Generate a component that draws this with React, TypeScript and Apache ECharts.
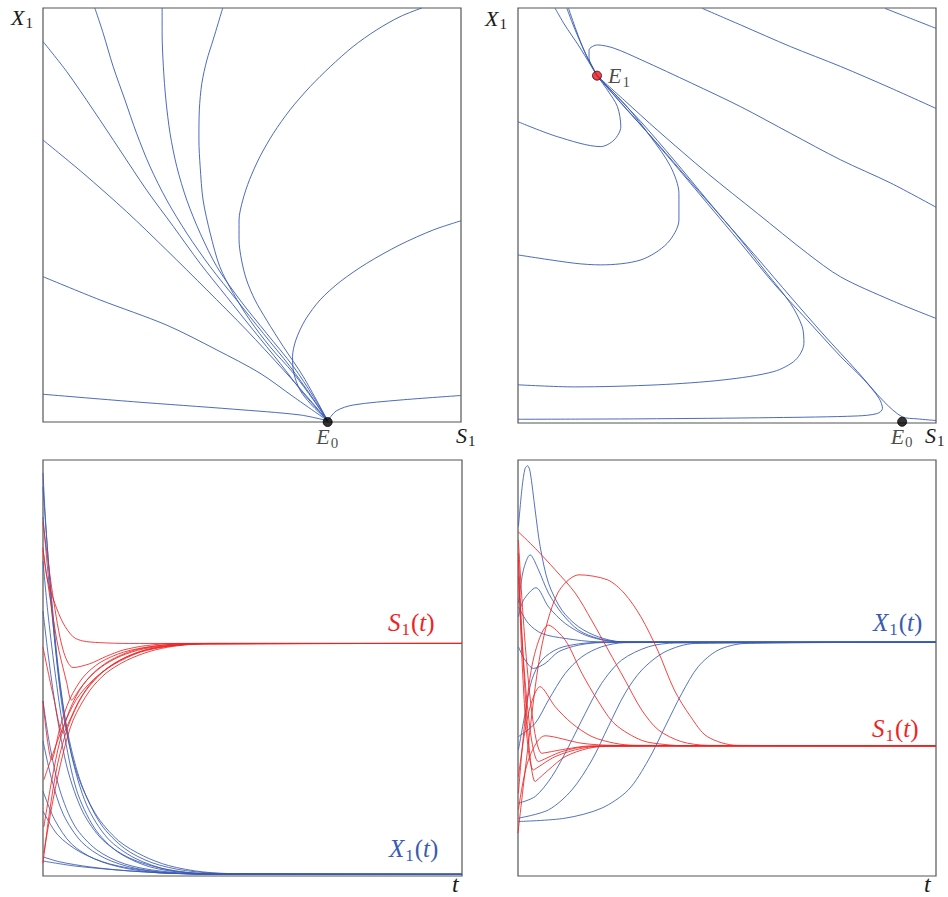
import React, { useEffect, useRef } from "react";
import * as echarts from "echarts";

type Pt = [number, number];

// ---------- Top-left phase portrait (S1 horizontal, X1 vertical), E0 node ----------
const topLeftTrajectories: Pt[][] = [
  [[0, 6.7], [21.6, 4.9], [45.5, 3.1], [61.5, 1.7], [68.1, 0.3]],
  [[0, 35.1], [13.6, 29.5], [29.6, 23.4], [41.6, 17.4], [51.9, 11.8], [59.9, 6.1], [68.1, 0.3]],
  [[0, 68.1], [9.6, 60.1], [20, 50.8], [29.6, 41.5], [39.2, 31.9], [48.7, 22.2], [57.5, 12.6], [63.9, 5.3], [68.1, 0.3]],
  [[0, 91.9], [5.7, 84.6], [12, 75.4], [18.4, 65.7], [24.8, 56], [31.2, 47.2], [37.6, 38.3], [43.9, 30.3], [50.3, 22.2], [56.7, 14.2], [62.3, 6.9], [68.1, 0.3]],
  [[12.4, 100], [14.4, 93.9], [16.8, 85.8], [19.6, 77.8], [22.4, 69.7], [25.6, 61.7], [29.6, 53.6], [34.4, 45.6], [40, 37.5], [46.3, 29.5], [52.7, 21.4], [59.1, 13.4], [64.3, 6.1], [68.1, 0.3]],
  [[28.5, 100], [28.5, 93.9], [28.8, 85.8], [29.4, 77.8], [30.4, 69.7], [32, 61.7], [34.4, 53.6], [37.6, 45.6], [41.6, 37.5], [47.1, 29.5], [53.5, 21.4], [59.9, 13.4], [64.7, 6.1], [68.1, 0.3]],
  [[43, 100], [41.9, 96.3], [40.7, 92.3], [39.2, 87.4], [38, 81.8], [37.4, 75.4], [37.3, 68.1], [37.6, 61.7], [38.3, 53.6], [40, 45.6], [42.3, 37.5], [45.5, 31.1], [49.5, 24.6], [54.3, 18.2], [59.9, 11.8], [64.7, 5.3], [68.1, 0.3]],
  [[90.6, 100], [85.4, 97.9], [79.8, 94.7], [74.2, 90.7], [68.7, 85.8], [63.9, 81], [59.1, 75.4], [55.1, 69.7], [51.9, 64.1], [49.4, 58.5], [47.8, 53.6], [46.9, 48.8], [46.9, 44], [47.5, 39.1], [48.7, 34.3], [50.7, 29.5], [53.5, 24.6], [57.5, 18.2], [62.3, 10.9], [68.1, 0.3]],
  [[100, 48.6], [93.4, 46.4], [85.4, 42.8], [77.4, 38.3], [71.1, 33.9], [66.3, 29.5], [62.7, 24.6], [60.5, 19.8], [59.7, 15.8], [60, 11.8], [61.5, 7.7], [63.9, 4.5], [68.1, 0.3]],
  [[100, 6.4], [85.4, 5.3], [74.2, 4.1], [70.2, 2.7], [68.1, 0.3]],
];
const topLeftE0: Pt = [68.1, 0];

// ---------- Top-right phase portrait, E1 and E0 ----------
const topRightTrajectories: Pt[][] = [
  [[87.8, 99.9], [93.9, 97.5], [100, 95.1]],
  [[44.1, 99.9], [53.3, 95.9], [65.2, 90.7], [77.2, 85.9], [89.2, 80.7], [100, 75.8]],
  [[100, 52], [89.2, 57.8], [77.2, 63.4], [65.2, 69.8], [53.3, 76.2], [41.5, 81.9], [29.5, 87.5], [23, 90.3], [19, 91.1], [17, 89.9], [17, 87.9], [18.2, 85.1], [18.9, 83.7]],
  [[18.9, 83.7], [25.4, 77.8], [33.3, 70.6], [45.3, 60.2], [57.3, 50.5], [69.2, 40.9], [77.2, 35.2], [89.2, 29.6], [100, 25.2]],
  [[18.9, 83.7], [25.4, 76.2], [33.3, 67.4], [41.3, 58.1], [49.3, 48.9], [57.3, 39.7], [65.2, 30.4], [73.2, 21.2], [81.2, 12.4], [87.6, 5.1], [91.9, 1.5], [95.5, 1], [100, 0.6]],
  [[0, 0.9], [29.4, 1], [61.2, 1.3], [81.2, 1.7], [86, 2.3], [87.2, 3.5], [86.4, 5.9], [82.8, 10.4], [77.2, 16], [69.2, 24.8], [61.2, 33.6], [53.3, 43.3], [45.3, 52.9], [37.3, 62.5], [29.4, 71.8], [23, 79], [18.9, 83.7]],
  [[0, 9.2], [13.5, 8.7], [33.4, 9.2], [49.3, 10.4], [61.2, 12.4], [66.4, 15.2], [68.4, 19.2], [68, 23.2], [65.2, 28.8], [59.6, 36], [53.3, 44.1], [45.3, 53.7], [37.3, 63.4], [29.4, 72.6], [23, 79.4], [18.9, 83.7]],
  [[0, 40.5], [13.5, 38.5], [19.8, 38.1], [29.4, 39.3], [35.7, 43.3], [38.5, 48.9], [38.5, 55.3], [36.5, 61.8], [31.7, 69], [26.1, 76.2], [21.4, 81.1], [18.9, 83.7]],
  [[0, 72.6], [9.4, 69], [19.8, 66.6], [23, 68.2], [24.6, 71.4], [23.8, 76.2], [21.4, 80.2], [18.9, 83.7]],
  [[8.9, 99.9], [11.2, 95.9], [14.4, 91.1], [17.6, 85.9], [18.9, 83.7]],
  [[11.7, 99.9], [13.2, 95.9], [15.2, 91.1], [17.2, 86.7], [18.9, 83.7]],
  [[12.1, 99.9], [13.9, 94.7], [16, 89.4], [18.9, 83.7]],
];
const topRightE1: Pt = [18.9, 83.7];
const topRightE0: Pt = [91.9, 0.3];

// ---------- Bottom-left time series (washout) ----------
const bottomLeftX1: Pt[][] = [
  [[0, 96.9], [0.6, 85.6], [1.6, 71.2], [3, 54.3], [5, 38], [8, 25], [12.5, 15], [18, 8.5], [24, 4.8], [30, 2.5], [38, 1], [48, 0.5], [100, 0.4]],
  [[0, 93.5], [0.9, 80.8], [2.1, 66.3], [3.7, 49.5], [6, 34], [9.2, 22], [13.8, 12.5], [19.5, 6.6], [26, 3.2], [34, 1.3], [45, 0.5], [100, 0.4]],
  [[0, 86.3], [0.9, 76], [2.3, 61.5], [4.2, 44.7], [6.8, 29.1], [10.4, 17.1], [15.4, 9.1], [21.9, 4.3], [30.2, 1.4], [41, 0.5], [56.5, 0.4], [100, 0.4]],
  [[0, 75.7], [1.1, 63.9], [2.8, 49.5], [4.9, 35.1], [8, 20.7], [12.3, 11.5], [17.8, 5.8], [25.5, 2.2], [35, 0.7], [49.3, 0.4], [100, 0.4]],
  [[0, 63.7], [1.4, 51.9], [3.3, 38.7], [5.9, 25.5], [9.5, 15.4], [14.2, 8.7], [20.7, 4.3], [29, 1.7], [39.8, 0.5], [100, 0.4]],
  [[0, 42.1], [1.6, 31.5], [4, 20.7], [7.6, 12], [12.8, 6.3], [19.5, 2.9], [27.9, 1.2], [39.8, 0.4], [100, 0.4]],
  [[0, 32.5], [2.1, 23.1], [4.9, 14.7], [9.2, 8.2], [14.7, 4.3], [21.9, 1.9], [32.6, 0.6], [100, 0.4]],
  [[0, 20.4], [2.8, 13.5], [6.8, 7.7], [12.3, 4.1], [19.5, 1.9], [30.2, 0.6], [100, 0.4]],
  [[0, 15.6], [3.5, 9.9], [8.8, 5.8], [15.9, 2.9], [25.5, 1.2], [37.4, 0.4], [100, 0.4]],
  [[0, 4.6], [4, 3.4], [11.1, 2.2], [20.7, 1.2], [32.6, 0.6], [49.3, 0.4], [100, 0.4]],
  [[0, 3.6], [7.6, 2.4], [18.3, 1.4], [30.2, 0.7], [46.9, 0.4], [100, 0.4]],
];
const bottomLeftS1: Pt[][] = [
  [[0, 79], [0.9, 72], [2.8, 65.6], [4.8, 60.8], [7.2, 57.5], [9.5, 56.5], [13.5, 56.1], [20.7, 55.9], [100, 55.9]],
  [[0, 85], [2.4, 67.1], [4.8, 54.3], [7.2, 50.1], [11.1, 51], [15.1, 52.8], [19.1, 54.3], [24.7, 55.4], [32, 55.9], [100, 55.9]],
  [[0.2, 5.5], [2.4, 18.3], [4.8, 29.5], [7.2, 37.5], [11.1, 44.5], [15.1, 48.8], [19.9, 51.8], [25.5, 54], [31, 55.2], [38, 55.8], [100, 55.9]],
  [[0.2, 11.8], [2.1, 23.1], [4.1, 32.7], [6.4, 40], [9.6, 46], [13.6, 50], [18.4, 52.8], [24, 54.6], [31, 55.5], [39, 55.9], [100, 55.9]],
  [[0, 42], [2.1, 27.9], [4.1, 35.9], [6.4, 42.5], [9.6, 47.8], [13.6, 51.3], [19.2, 53.8], [26, 55.2], [34, 55.8], [100, 55.9]],
  [[0, 55], [2.5, 43.1], [4.8, 34.3], [6.4, 37.5], [8.8, 42.5], [12, 47], [16.8, 51], [23, 53.9], [30, 55.3], [38, 55.8], [100, 55.9]],
  [[0, 78.4], [3.3, 56.7], [5.7, 46.3], [6.8, 42.3], [8.8, 45], [12, 48.8], [16, 51.8], [21.5, 54.2], [28.7, 55.5], [36, 55.9], [100, 55.9]],
  [[0.2, 23.1], [2.4, 29.5], [4.8, 35.9], [8, 42.5], [12, 47.2], [16.8, 50.8], [23.2, 53.8], [30, 55.2], [38, 55.8], [100, 55.9]],
  [[0, 3.1], [1.5, 15], [3.5, 27], [6, 36], [9.5, 43.5], [14, 48.8], [19, 52.2], [25, 54.5], [32, 55.5], [40, 55.9], [100, 55.9]],
];

// ---------- Bottom-right time series (coexistence) ----------
const bottomRightX1: Pt[][] = [
  [[0.1, 84], [1, 93.6], [1.7, 98], [2.3, 98.6], [2.9, 97.2], [4.1, 88], [5.3, 79.2], [7.3, 70.4], [10.5, 63.9], [14.5, 59.9], [19.2, 57.5], [24.8, 56.3], [100, 56.2]],
  [[0.1, 65.6], [1.3, 73.6], [2.9, 77.2], [4.9, 73.6], [7.3, 68], [10.5, 63.1], [14.5, 59.1], [19.2, 57.1], [24.8, 56.3], [100, 56.2]],
  [[0.1, 62.3], [1.3, 66.3], [4.3, 69.3], [7.3, 64.7], [11.3, 60.7], [16.1, 57.9], [21.6, 56.5], [28, 56.2], [100, 56.2]],
  [[0.1, 64.7], [2.5, 60.7], [5.7, 58.3], [11.3, 57.1], [19.2, 56.3], [100, 56.2]],
  [[0.1, 55.1], [1.7, 51.9], [3.7, 49.9], [6.5, 51.1], [9.7, 53.9], [14.5, 55.5], [20, 56.1], [100, 56.2]],
  [[0.1, 30.3], [1.7, 39.1], [3.3, 47.1], [5.7, 51.9], [9.7, 54.7], [15.3, 55.9], [21.6, 56.2], [100, 56.2]],
  [[0.1, 33.5], [4.1, 36.7], [7.3, 42.3], [11.3, 48.7], [15.3, 52.7], [20, 55.1], [25.6, 56.1], [100, 56.2]],
  [[0.1, 17.5], [4.1, 19.1], [8.1, 23.9], [12.1, 31.1], [16.1, 39.1], [20, 46.3], [24.8, 51.9], [31.2, 55.1], [37.5, 56], [100, 56.2]],
  [[0.1, 13.9], [7.3, 15.9], [12.9, 20.7], [17.7, 27.9], [21.6, 35.9], [25.6, 43.9], [29.6, 49.5], [35.2, 53.9], [42.3, 55.9], [100, 56.2]],
  [[0.1, 13.1], [11.3, 13.9], [20, 16.3], [26.4, 20.7], [31.2, 27.9], [35.2, 35.9], [39.2, 43.9], [43.1, 50.3], [47.9, 54.3], [54.3, 55.9], [100, 56.2]],
];
const bottomRightS1: Pt[][] = [
  [[0, 82.8], [4.1, 78.8], [8.9, 73.6], [13.7, 68], [17.6, 61.5], [21.6, 54.3], [25.6, 47.1], [29.6, 39.9], [33.6, 35.1], [39.1, 32.3], [45.5, 31.4], [100, 31.3]],
  [[0, 10.3], [2.3, 30.3], [5.5, 54.3], [9.5, 68], [14.6, 72.4], [21.4, 71.2], [25.4, 68], [29.4, 62.3], [33.4, 54.3], [37.4, 44.7], [41.3, 38.3], [45.3, 33.5], [52.4, 31.4], [100, 31.3]],
  [[0.1, 19.9], [3.3, 50.3], [7.3, 60.3], [11.3, 56.7], [15.3, 48.7], [19.2, 42], [23.2, 36.5], [29.6, 32.6], [35.2, 31.6], [40, 31.3], [100, 31.3]],
  [[0.1, 23.9], [2.5, 39.1], [5.3, 45.5], [8.9, 40.7], [12.9, 36.7], [17.7, 33.5], [23.2, 31.9], [28, 31.4], [100, 31.3]],
  [[0.1, 15.9], [2.5, 27.9], [6.5, 33.7], [15.3, 31.9], [23.2, 31.4], [100, 31.3]],
  [[0.1, 77.6], [4.1, 22.7], [7.3, 25.5], [11.3, 28.7], [16.9, 30.7], [23.2, 31.3], [100, 31.3]],
  [[0.1, 76], [3.7, 25.5], [8.9, 28.7], [15.3, 30.7], [21.6, 31.3], [100, 31.3]],
  [[0.1, 72], [4.9, 27.5], [10.5, 29.9], [16.9, 31.1], [100, 31.3]],
  [[0.1, 80.8], [5.7, 29.5], [11.3, 30.5], [17.7, 31.3], [100, 31.3]],
];

const BLUE = "#3a5bb2";
const RED = "#ee2323";
const INK = "#1a1a1a";
const SERIF = "Liberation Serif";

const richFor = (color: string, size: number, extra = 5) => ({
  i: { fontFamily: SERIF, fontStyle: "italic", fontSize: size, lineHeight: size + extra, fill: color, color, verticalAlign: "middle" },
  r: { fontFamily: SERIF, fontSize: size, lineHeight: size + extra, fill: color, color, verticalAlign: "middle" },
  s: {
    fontFamily: SERIF,
    fontSize: Math.round(size * 0.66),
    lineHeight: Math.round(size * 0.66) + 2,
    fill: color,
    color,
    verticalAlign: "bottom",
    padding: [Math.round(size * 0.38), 1, 0, 1],
  },
});

function curveSeries(curves: Pt[][], color: string, idx: number, opacity: number) {
  return curves.map((c) => ({
    type: "line",
    xAxisIndex: idx,
    yAxisIndex: idx,
    data: c,
    showSymbol: false,
    smooth: 0.3,
    silent: true,
    clip: true,
    lineStyle: { color, width: 1, opacity },
    z: 2,
  }));
}

function pointSeries(idx: number, p: Pt, fill: string, border: string, label: string, pos: string, dist: number, offset: number[]) {
  return {
    type: "scatter",
    xAxisIndex: idx,
    yAxisIndex: idx,
    data: [p],
    symbolSize: 9,
    clip: false,
    silent: true,
    z: 5,
    itemStyle: { color: fill, borderColor: border, borderWidth: 1 },
    label: {
      show: true,
      position: pos,
      distance: dist,
      offset,
      formatter: label,
      fontFamily: SERIF,
      rich: richFor(INK, 22),
    },
  };
}

function textEl(left: number, top: number, text: string, color: string, size: number, extra = 5) {
  return {
    type: "text",
    left,
    top,
    z: 10,
    style: { text, rich: richFor(color, size, extra), fill: color, fontFamily: SERIF, fontSize: size },
  };
}

export default function App() {
  const ref = useRef<HTMLDivElement>(null);
  useEffect(() => {
    if (!ref.current) return;
    const chart = echarts.init(ref.current, undefined, { renderer: "svg" });
    const gridBox = { show: true, borderColor: "#555", borderWidth: 1.2, backgroundColor: "transparent" };
    const grids = [
      { left: 43, top: 8, width: 418, height: 414, ...gridBox },
      { left: 518, top: 8, width: 418, height: 415, ...gridBox },
      { left: 43, top: 460, width: 419, height: 416, ...gridBox },
      { left: 518, top: 460, width: 418, height: 416, ...gridBox },
    ];
    const ax = (i: number) => ({
      type: "value",
      gridIndex: i,
      min: 0,
      max: 100,
      show: false,
      splitLine: { show: false },
    });
    const option = {
      animation: false,
      backgroundColor: "#fff",
      textStyle: { fontFamily: SERIF },
      grid: grids,
      xAxis: [0, 1, 2, 3].map(ax),
      yAxis: [0, 1, 2, 3].map(ax),
      series: [
        ...curveSeries(topLeftTrajectories, BLUE, 0, 0.9),
        ...curveSeries(topRightTrajectories, BLUE, 1, 0.9),
        ...curveSeries(bottomLeftX1, BLUE, 2, 0.85),
        ...curveSeries(bottomLeftS1, RED, 2, 0.85),
        ...curveSeries(bottomRightX1, BLUE, 3, 0.85),
        ...curveSeries(bottomRightS1, RED, 3, 0.85),
        pointSeries(0, topLeftE0, "#000", "#000", "{i|E}{s|0}", "bottom", 0, [0, -4]),
        pointSeries(1, topRightE0, "#000", "#000", "{i|E}{s|0}", "bottom", 0, [0, -4]),
        pointSeries(1, topRightE1, "#e8141c", "#3a0000", "{i|E}{s|1}", "right", 6, [0, 0]),
      ],
      graphic: [
        textEl(11, 6, "{i|X}{s|1}", INK, 22),
        textEl(456, 424, "{i|S}{s|1}", INK, 22),
        textEl(485, 7, "{i|X}{s|1}", INK, 22),
        textEl(925, 424, "{i|S}{s|1}", INK, 22),
        textEl(388, 610, "{i|S}{s|1}{r|(}{i|t}{r|)}", RED, 25),
        textEl(389, 836, "{i|X}{s|1}{r|(}{i|t}{r|)}", BLUE, 25),
        textEl(452, 872, "{i|t}", INK, 24, 0),
        textEl(873, 610, "{i|X}{s|1}{r|(}{i|t}{r|)}", BLUE, 25),
        textEl(872, 716, "{i|S}{s|1}{r|(}{i|t}{r|)}", RED, 25),
        textEl(924, 872, "{i|t}", INK, 24, 0),
      ],
    };
    chart.setOption(option as any);
    return () => chart.dispose();
  }, []);
  return <div ref={ref} style={{ position: "absolute", left: 0, top: 0, width: 948, height: 897 }} />;
}
